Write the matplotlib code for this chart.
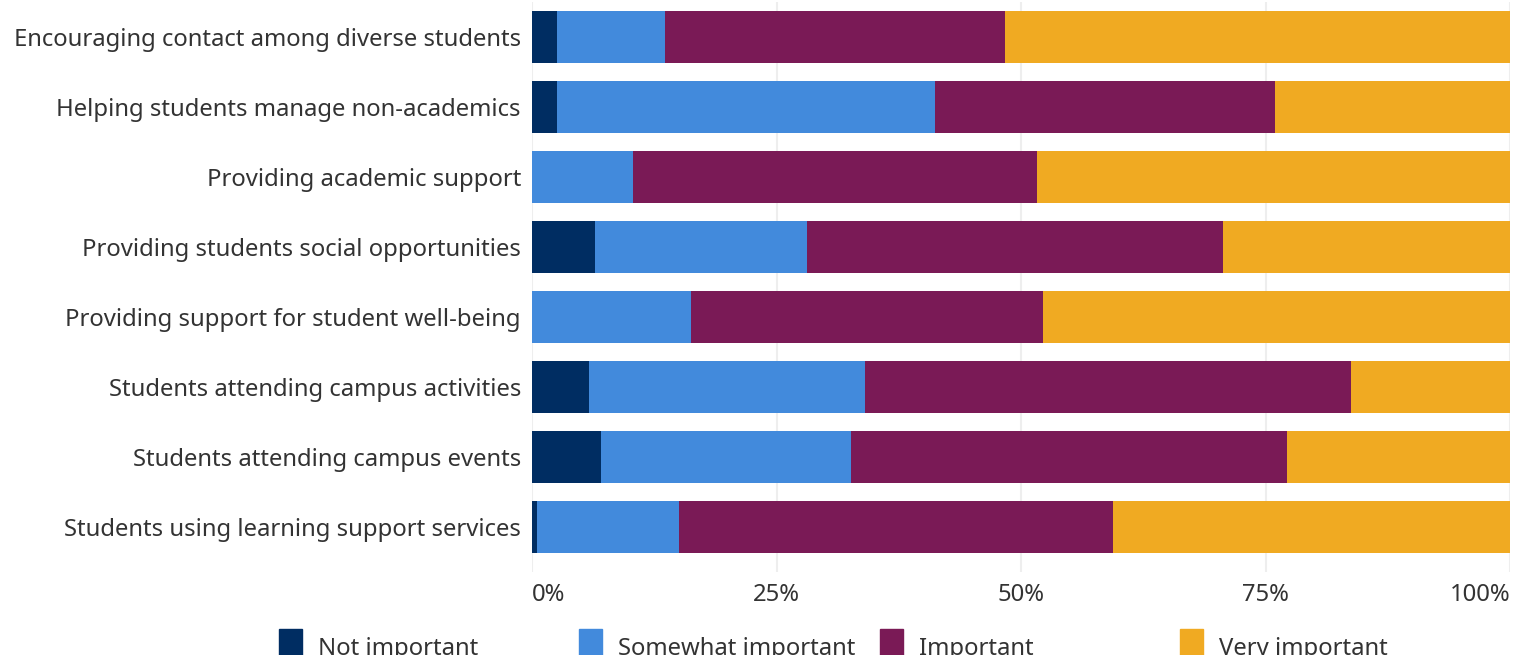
import numpy as np
import matplotlib
matplotlib.use("Agg")
import matplotlib.pyplot as plt
from matplotlib.patches import Rectangle

plt.rcParams['font.family'] = ['Noto Sans', 'DejaVu Sans']

categories = [
    "Encouraging contact among diverse students",
    "Helping students manage non-academics",
    "Providing academic support",
    "Providing students social opportunities",
    "Providing support for student well-being",
    "Students attending campus activities",
    "Students attending campus events",
    "Students using learning support services",
]
levels = ["Not important", "Somewhat important", "Important", "Very important"]
colors = ["#002D62", "#428ADC", "#7A1A56", "#F0AA22"]

# shares in percent
not_important = [2.6, 2.6, 0.0, 6.4, 0.0, 5.8, 7.1, 0.5]
somewhat = [11.0, 38.6, 10.3, 21.7, 16.3, 28.2, 25.5, 14.5]
important = [34.8, 34.8, 41.3, 42.6, 35.9, 49.7, 44.6, 44.4]
very = [51.6, 24.0, 48.4, 29.3, 47.8, 16.3, 22.8, 40.6]
xticks = [0, 25, 50, 75, 100]
xticklabels = ["0%", "25%", "50%", "75%", "100%"]

series = [not_important, somewhat, important, very]

fig = plt.figure(figsize=(15.3, 6.55), dpi=100)
ax = fig.add_axes([532 / 1530, 1 - 572 / 655, 978 / 1530, 570 / 655])

y = np.arange(len(categories))
left = np.zeros(len(categories))
for vals, col, lab in zip(series, colors, levels):
    ax.barh(y, vals, left=left, height=0.743, color=col, label=lab, zorder=3)
    left += np.array(vals)

ax.set_ylim(len(categories) - 0.36, -0.5)
ax.set_xlim(0, 100)
ax.set_yticks(y)
ax.set_yticklabels(categories, fontsize=17.2, color="#333333")
ax.set_xticks(xticks)
ax.set_xticklabels(xticklabels, fontsize=17.2, color="#333333")
ax.tick_params(axis='y', length=0, pad=8)
ax.tick_params(axis='x', length=0, pad=8)
for lbl, ha in zip(ax.get_xticklabels(), ["left", "center", "center", "center", "right"]):
    lbl.set_ha(ha)
ax.grid(axis='x', color="#EEEEEE", linewidth=1.5, zorder=0)
for s in ax.spines.values():
    s.set_visible(False)

# legend drawn by hand so items sit at even spacing like the original
for i, (lab, col) in enumerate(zip(levels, colors)):
    x0 = (279 + 300.3 * i) / 1530
    fig.patches.append(Rectangle((x0, 0), 23 / 1530, 26 / 655,
                                 transform=fig.transFigure, color=col))
    fig.text(x0 + 39 / 1530, -6 / 655, lab, fontsize=17.2, color="#333333",
             ha='left', va='bottom')

fig.savefig("out.png", dpi=100)
